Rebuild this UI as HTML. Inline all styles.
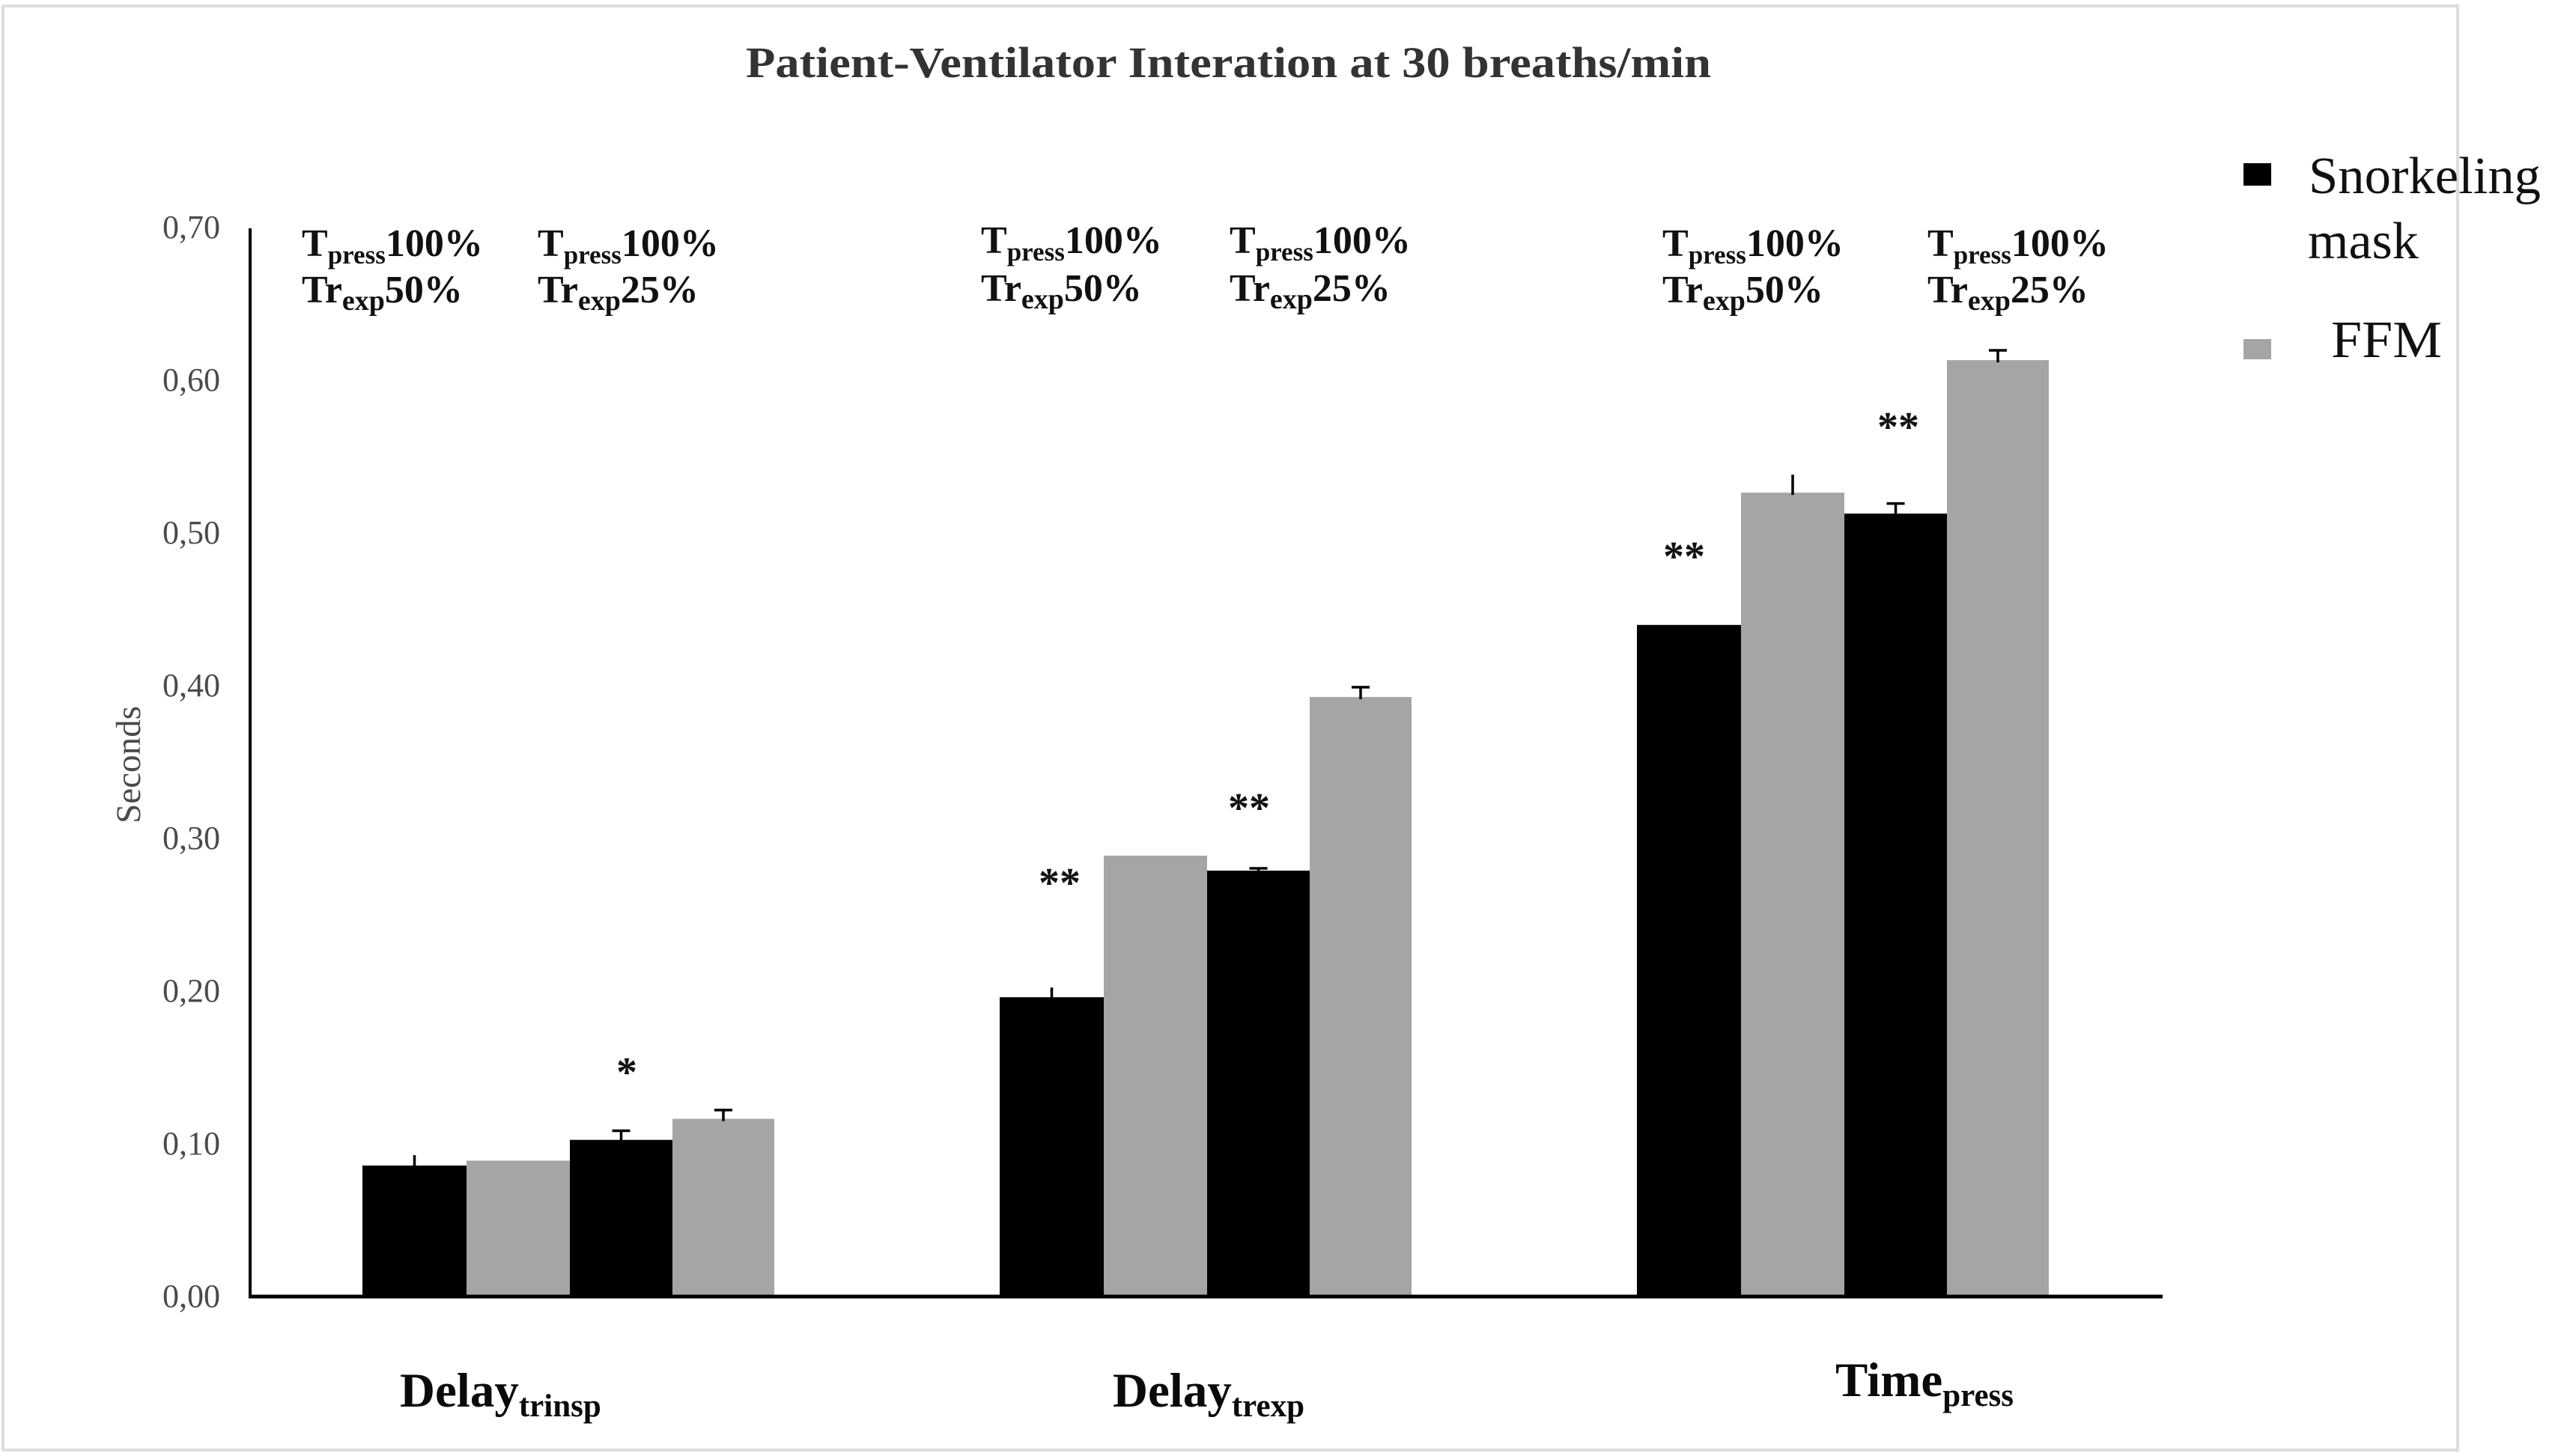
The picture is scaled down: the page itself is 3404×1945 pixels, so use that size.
<!DOCTYPE html>
<html lang="en">
<head>
<meta charset="utf-8">
<title>Patient-Ventilator Interation at 30 breaths/min</title>
<style>
html,body{margin:0;padding:0;background:#fff;width:3404px;height:1945px;overflow:hidden}
svg{display:block}
text{font-family:"Liberation Serif",serif}
.ann{font-weight:bold;font-size:52px;fill:#111}
.annsub{font-size:35px}
.annexp{font-size:38px}
.cat{font-weight:bold;font-size:65px;fill:#0a0a0a}
.catsub{font-size:43px}
.tick{font-size:44px;fill:#4a4a4a;text-anchor:end}
.star{font-weight:bold;font-size:56px;fill:#111;text-anchor:middle}
.leg{font-size:70px;fill:#111}
</style>
</head>
<body>
<svg id="chart" xmlns="http://www.w3.org/2000/svg" width="3404" height="1945" viewBox="0 0 3404 1945">
  <rect x="4" y="8" width="3278" height="1929" fill="#fff" stroke="#dcdcdc" stroke-width="4"/>
  <text x="996" y="103" font-size="58" font-weight="bold" fill="#333" textLength="1289" lengthAdjust="spacingAndGlyphs">Patient-Ventilator Interation at 30 breaths/min</text>
  <g id="ticks"></g>
  <text transform="translate(187,1100) rotate(-90)" font-size="47" fill="#4a4a4a" textLength="157" lengthAdjust="spacingAndGlyphs">Seconds</text>
  <g id="bars"></g>
  <line x1="334" y1="305" x2="334" y2="1734" stroke="#000" stroke-width="4"/>
  <line x1="332" y1="1732" x2="2888" y2="1732" stroke="#000" stroke-width="5"/>

  <text class="ann" x="403" y="342">T<tspan class="annsub" dy="10">press</tspan><tspan dy="-10">100%</tspan></text>
  <text class="ann" x="403" y="404">Tr<tspan class="annexp" dy="10">exp</tspan><tspan dy="-10">50%</tspan></text>
  <text class="ann" x="718" y="342">T<tspan class="annsub" dy="10">press</tspan><tspan dy="-10">100%</tspan></text>
  <text class="ann" x="718" y="404">Tr<tspan class="annexp" dy="10">exp</tspan><tspan dy="-10">25%</tspan></text>

  <text class="ann" x="1310" y="338">T<tspan class="annsub" dy="10">press</tspan><tspan dy="-10">100%</tspan></text>
  <text class="ann" x="1310" y="402">Tr<tspan class="annexp" dy="10">exp</tspan><tspan dy="-10">50%</tspan></text>
  <text class="ann" x="1642" y="338">T<tspan class="annsub" dy="10">press</tspan><tspan dy="-10">100%</tspan></text>
  <text class="ann" x="1642" y="402">Tr<tspan class="annexp" dy="10">exp</tspan><tspan dy="-10">25%</tspan></text>

  <text class="ann" x="2220" y="342">T<tspan class="annsub" dy="10">press</tspan><tspan dy="-10">100%</tspan></text>
  <text class="ann" x="2220" y="404">Tr<tspan class="annexp" dy="10">exp</tspan><tspan dy="-10">50%</tspan></text>
  <text class="ann" x="2574" y="342">T<tspan class="annsub" dy="10">press</tspan><tspan dy="-10">100%</tspan></text>
  <text class="ann" x="2574" y="404">Tr<tspan class="annexp" dy="10">exp</tspan><tspan dy="-10">25%</tspan></text>

  <text class="star" x="837" y="1451">*</text>
  <text class="star" x="1415" y="1198">**</text>
  <text class="star" x="1668" y="1098">**</text>
  <text class="star" x="2249" y="762">**</text>
  <text class="star" x="2535" y="589">**</text>

  <text class="cat" x="534" y="1879">Delay<tspan class="catsub" dy="13">trinsp</tspan></text>
  <text class="cat" x="1486" y="1879">Delay<tspan class="catsub" dy="13">trexp</tspan></text>
  <text class="cat" x="2451" y="1865">Time<tspan class="catsub" dy="13">press</tspan></text>

  <rect x="2996" y="218" width="37" height="30" fill="#000"/>
  <text class="leg" x="3083" y="258" textLength="310" lengthAdjust="spacingAndGlyphs">Snorkeling</text>
  <text class="leg" x="3082" y="345">mask</text>
  <rect x="2996" y="453" width="37" height="27" fill="#a5a5a5"/>
  <text class="leg" x="3113" y="477" textLength="148" lengthAdjust="spacingAndGlyphs">FFM</text>
</svg>
<script>
const categories = ["Delay trinsp", "Delay trexp", "Time press"];
const tickLabels = ["0,00", "0,10", "0,20", "0,30", "0,40", "0,50", "0,60", "0,70"];
const tickValues = [0, 0.1, 0.2, 0.3, 0.4, 0.5, 0.6, 0.7];
const snorkeling50 = [0.0858, 0.196, 0.4398];
const ffm50 = [0.089, 0.2887, 0.5264];
const snorkeling25 = [0.1026, 0.2789, 0.5127];
const ffm25 = [0.1164, 0.3926, 0.6132];
const snorkeling50Err = [0.0068, 0.0064, 0];
const ffm50Err = [0, 0, 0.0118];
const snorkeling25Err = [0.006, 0.0015, 0.0066];
const ffm25Err = [0.0057, 0.0064, 0.0064];
const snorkeling50Cap = [false, false, false];
const ffm50Cap = [false, false, false];
const snorkeling25Cap = [true, true, true];
const ffm25Cap = [true, true, true];

const NS = "http://www.w3.org/2000/svg";
const BASE_Y = 1732, PX_PER_UNIT = 2040;
const GROUP_START = 484, GROUP_STEP = 851;
function yScale(v) { return BASE_Y - v * PX_PER_UNIT; }
function xBar(groupIndex, barIndex) {
  const widths = [139, 138, 137, 136];
  let x = GROUP_START + GROUP_STEP * groupIndex;
  for (let i = 0; i < barIndex; i++) x += widths[i];
  return x;
}
function barWidth(barIndex) { return xBar(0, barIndex + 1) - xBar(0, barIndex); }

const tickLayer = document.getElementById("ticks");
tickLabels.forEach(function (label, i) {
  const t = document.createElementNS(NS, "text");
  t.setAttribute("class", "tick");
  t.setAttribute("x", 294);
  t.setAttribute("y", yScale(tickValues[i]) + 14);
  t.textContent = label;
  
  
  tickLayer.appendChild(t);
});

const seriesList = [
  { values: snorkeling50, errs: snorkeling50Err, caps: snorkeling50Cap, fill: "#000" },
  { values: ffm50, errs: ffm50Err, caps: ffm50Cap, fill: "#a5a5a5" },
  { values: snorkeling25, errs: snorkeling25Err, caps: snorkeling25Cap, fill: "#000" },
  { values: ffm25, errs: ffm25Err, caps: ffm25Cap, fill: "#a5a5a5" }
];
const barLayer = document.getElementById("bars");
categories.forEach(function (cat, g) {
  seriesList.forEach(function (s, b) {
    const x = xBar(g, b), w = barWidth(b), top = yScale(s.values[g]);
    const r = document.createElementNS(NS, "rect");
    r.setAttribute("x", x);
    r.setAttribute("y", top);
    r.setAttribute("width", w);
    r.setAttribute("height", BASE_Y - top);
    r.setAttribute("fill", s.fill);
    
    
    barLayer.appendChild(r);
    if (s.errs[g] > 0) {
      const cx = x + w / 2;
      const errTop = yScale(s.values[g] + s.errs[g]);
      const stem = document.createElementNS(NS, "line");
      stem.setAttribute("x1", cx);
      stem.setAttribute("x2", cx);
      stem.setAttribute("y1", errTop);
      stem.setAttribute("y2", top + 3);
      stem.setAttribute("stroke", "#000");
      stem.setAttribute("stroke-width", 3.5);
      
      
      barLayer.appendChild(stem);
      if (s.caps[g]) {
        const cap = document.createElementNS(NS, "line");
        cap.setAttribute("x1", cx - 12);
        cap.setAttribute("x2", cx + 12);
        cap.setAttribute("y1", errTop);
        cap.setAttribute("y2", errTop);
        cap.setAttribute("stroke", "#000");
        cap.setAttribute("stroke-width", 3.5);
        
        
        barLayer.appendChild(cap);
      }
    }
  });
});
</script>
</body>
</html>
